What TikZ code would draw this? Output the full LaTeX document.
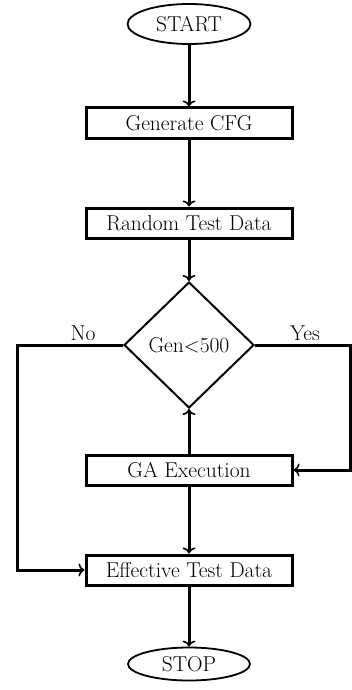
\documentclass[tikz,border=0pt]{standalone}
\usetikzlibrary{shapes.geometric,arrows.meta}
\begin{document}
\begin{tikzpicture}[x=1pt,y=-1pt,
  txt/.style={font=\fontsize{21.5}{24}\selectfont},
  term/.style={ellipse,draw,line width=1.8pt,inner sep=0pt,txt},
  procbox/.style={rectangle,draw,line width=3pt,minimum width=206pt,minimum height=30pt,inner sep=0pt,txt},
  decide/.style={diamond,draw,line width=2pt,minimum width=130pt,minimum height=126pt,inner sep=0pt,txt},
  flow/.style={line width=3pt,-{To[length=6pt,width=13pt,line width=1.6pt]}},
  lbl/.style={txt}]
\useasboundingbox (0,0) rectangle (352,690);
\node[term,minimum width=123pt,minimum height=40pt] (start) at (189,24) {START};
\node[procbox] (cfg) at (189,123) {Generate CFG};
\node[procbox] (rtd) at (189,223) {Random Test Data};
\node[decide] (gen) at (189,345) {Gen$<$500};
\node[procbox] (ga) at (189,470) {GA Execution};
\node[procbox] (etd) at (189,570) {Effective Test Data};
\node[term,minimum width=122pt,minimum height=33pt] (stop) at (189,664) {STOP};
\coordinate (lc) at (17,345);
\coordinate (rc) at (350,345);
\draw[flow] (start) -- (cfg);
\draw[flow] (cfg) -- (rtd);
\draw[flow] (rtd) -- (gen);
\draw[flow] (ga) -- (gen);
\draw[flow] (ga) -- (etd);
\draw[flow] (etd) -- (stop);
\draw[flow] (gen.west) -- (lc) |- (etd.west);
\draw[flow] (gen.east) -- (rc) |- (ga.east);
\node[lbl] (no) at (83,333) {No};
\node[lbl] (yes) at (305,333) {Yes};
\end{tikzpicture}
\end{document}
